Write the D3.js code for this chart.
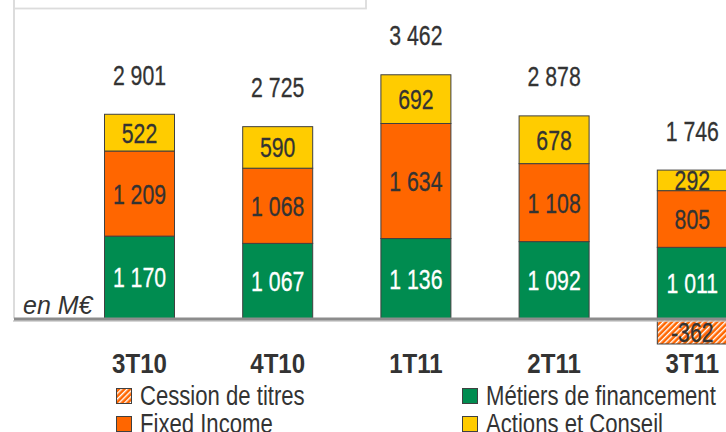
<!DOCTYPE html>
<html>
<head>
<meta charset="utf-8">
<script src="https://cdn.jsdelivr.net/npm/d3@7"></script>
<style>
  body { margin: 0; background: #fff; }
  svg { display: block; }
  text { font-family: "Liberation Sans", Arial, sans-serif; }
</style>
</head>
<body>
<div id="chart"></div>
<script>
// trimestres
const categories = ["3T10", "4T10", "1T11", "2T11", "3T11"];
// séries en M€
const metiers = [1170, 1067, 1136, 1092, 1011];
const fixedIncome = [1209, 1068, 1634, 1108, 805];
const actions = [522, 590, 692, 678, 292];
const cession = [0, 0, 0, 0, -362];
const totals = [2901, 2725, 3462, 2878, 1746];

const seriesNames = {
  metiers: "Métiers de financement",
  fixedIncome: "Fixed Income",
  actions: "Actions et Conseil",
  cession: "Cession de titres"
};

const width = 726, height = 432;
const base = 318.5;

const svg = d3.select("#chart").append("svg")
  .attr("width", width)
  .attr("height", height)
  .attr("viewBox", `0 0 ${width} ${height}`);

// pas d'Arial Narrow installé -> on écrase Liberation Sans horizontalement
function narrowText(sel, fx, fy, sx) {
  return sel.attr("transform", (d, i) => `translate(${fx(d, i)},${fy(d, i)}) scale(${sx},1)`);
}

const defs = svg.append("defs");
const hatch = defs.append("pattern")
  .attr("id", "hatch")
  .attr("patternUnits", "userSpaceOnUse")
  .attr("width", 4).attr("height", 4)
  .attr("patternTransform", "rotate(45)");
hatch.append("rect").attr("width", 4).attr("height", 4).attr("fill", "#ff6600");
hatch.append("rect").attr("width", 1.4).attr("height", 4).attr("fill", "#fff");

const color = {
  metiers: "#008c50",
  fixedIncome: "#ff6600",
  actions: "#ffcc00",
  cession: "url(#hatch)"
};

const fmt = d3.formatLocale({ decimal: ",", thousands: " ", grouping: [3], currency: ["", "€"], minus: "-" }).format(",d");

const rows = categories.map((c, i) => ({
  cat: c,
  metiers: metiers[i],
  fixedIncome: fixedIncome[i],
  actions: actions[i],
  cession: cession[i]
}));

const keys = ["metiers", "fixedIncome", "actions", "cession"];
const layers = d3.stack().keys(keys).offset(d3.stackOffsetDiverging)(rows);

const x = d3.scaleBand()
  .domain(categories)
  .range([104.5, 727.3])
  .paddingInner(0.4935)
  .paddingOuter(0);

const y = d3.scaleLinear()
  .domain([0, 3500])
  .range([base, base - 3500 * 0.0704]);

const cx = c => x(c) + x.bandwidth() / 2;

// cadre gris en haut + bord gauche
svg.append("rect")
  .attr("x", 14).attr("y", -10)
  .attr("width", 352).attr("height", 18.5)
  .attr("fill", "#fff")
  .attr("stroke", "#dcdcdc").attr("stroke-width", 1.8);
svg.append("line")
  .attr("x1", 14).attr("x2", 14)
  .attr("y1", 0).attr("y2", base)
  .attr("stroke", "#dcdcdc").attr("stroke-width", 2);

// barres
const g = svg.append("g");
layers.forEach(layer => {
  g.append("g").selectAll("rect")
    .data(layer.filter(d => d[1] !== d[0]))
    .join("rect")
    .attr("x", d => x(d.data.cat))
    .attr("width", x.bandwidth())
    .attr("y", d => y(Math.max(d[0], d[1])))
    .attr("height", d => Math.abs(y(d[0]) - y(d[1])))
    .attr("fill", color[layer.key])
    .attr("stroke", "#404040")
    .attr("stroke-width", 1);
});

// axe horizontal (avec petite ombre)
svg.append("line")
  .attr("x1", 13).attr("x2", width)
  .attr("y1", y(0) + 2.5).attr("y2", y(0) + 2.5)
  .attr("stroke", "#c8c8c8").attr("stroke-width", 1.5);
svg.append("line")
  .attr("x1", 14).attr("x2", width)
  .attr("y1", y(0) + 0.5).attr("y2", y(0) + 0.5)
  .attr("stroke", "#8c8c8c").attr("stroke-width", 3);

// valeurs dans les segments
layers.forEach(layer => {
  const key = layer.key;
  const t = g.append("g").selectAll("text")
    .data(layer.filter(d => d[1] !== d[0]))
    .join("text")
    .attr("text-anchor", "middle")
    .attr("font-size", 28)
    .attr("fill", key === "metiers" ? "#fff" : "#333")
    .attr("stroke", key === "metiers" ? "#fff" : "#333")
    .attr("stroke-width", 0.3)
    .text(d => fmt(d.data[key]));
  narrowText(t, d => cx(d.data.cat),
    d => (y(d[0]) + y(d[1])) / 2 + (key === "cession" ? 11 : 10), 0.76);
});

// totaux
const tot = svg.append("g").selectAll("text")
  .data(rows)
  .join("text")
  .attr("text-anchor", "middle")
  .attr("font-size", 28)
  .attr("fill", "#333")
  .attr("stroke", "#333").attr("stroke-width", 0.3)
  .text((d, i) => fmt(totals[i]));
narrowText(tot, d => cx(d.cat), d => y(d.metiers + d.fixedIncome + d.actions) - 29.5, 0.76);

// catégories
const cat = svg.append("g").selectAll("text")
  .data(categories)
  .join("text")
  .attr("text-anchor", "middle")
  .attr("font-size", 28)
  .attr("font-weight", "bold")
  .attr("fill", "#333")
  .text(d => d);
narrowText(cat, d => cx(d), () => 372.5, 0.86);

// unité
svg.append("text")
  .attr("x", 23).attr("y", 314)
  .attr("font-size", 25)
  .attr("font-style", "italic")
  .attr("fill", "#333")
  .text("en M€");

// légende
const legendItems = [
  { key: "cession", x: 116, y: 388 },
  { key: "fixedIncome", x: 116, y: 416 },
  { key: "metiers", x: 462, y: 388 },
  { key: "actions", x: 462, y: 416 }
];
const lg = svg.append("g").selectAll("g")
  .data(legendItems)
  .join("g")
  .attr("transform", d => `translate(${d.x},${d.y})`);
lg.append("rect")
  .attr("x", 0.5).attr("y", 0.5)
  .attr("width", 15).attr("height", 15)
  .attr("fill", d => color[d.key])
  .attr("stroke", "#404040").attr("stroke-width", 1);
narrowText(lg.append("text")
  .attr("font-size", 28)
  .attr("fill", "#333")
  .text(d => seriesNames[d.key]), () => 24, () => 17, 0.79);
</script>
</body>
</html>
